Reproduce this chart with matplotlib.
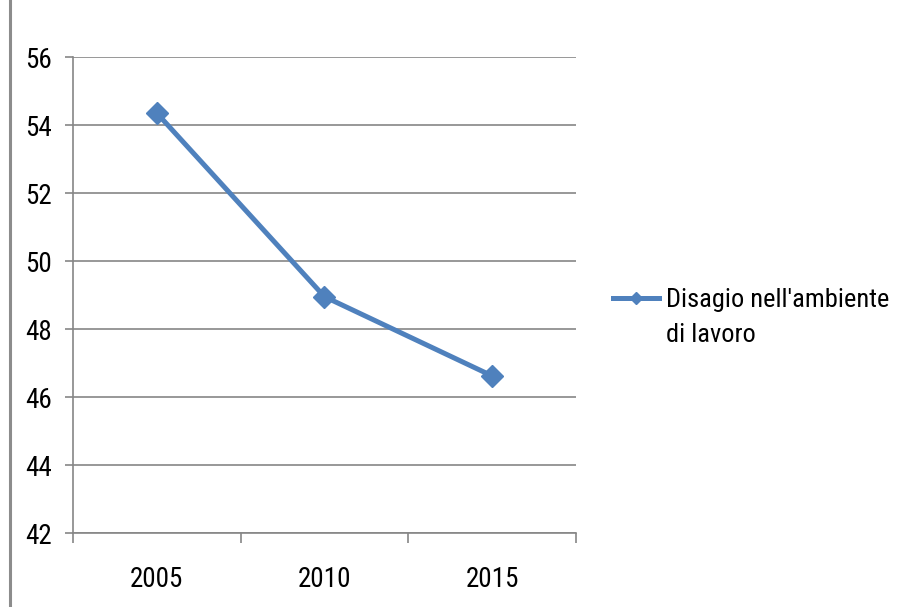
import matplotlib
matplotlib.use("Agg")
import matplotlib.pyplot as plt
from matplotlib.lines import Line2D

# dati
anni = ["2005", "2010", "2015"]
valori = [54.35, 48.95, 46.62]
etichetta = "Disagio nell'ambiente"
etichetta2 = "di lavoro"

plt.rcParams['font.family'] = ['Liberation Sans Narrow', 'Roboto Condensed', 'Open Sans Condensed', 'DejaVu Sans']
plt.rcParams['font.stretch'] = 'condensed'

blu = "#4F81BD"
grigio = "#868686"

fig = plt.figure(figsize=(9.04, 6.07), dpi=100)
ax = fig.add_axes([73 / 904, 1 - 533 / 607, (576 - 73) / 904, (533 - 57) / 607])

x = list(range(len(anni)))
ax.plot(x, valori, color=blu, lw=3.6, marker="D", markersize=11.5, label=etichetta, zorder=3)

ax.set_xlim(-0.5, len(anni) - 0.5)
ax.set_ylim(42, 56)
ax.set_yticks(range(42, 57, 2))
ax.grid(axis="y", color=grigio, lw=1.2)
ax.set_axisbelow(True)

ax.set_xticks(x)
ax.set_xticklabels(anni)
ax.set_xticks([i - 0.5 for i in range(len(anni) + 1)], minor=True)
ax.tick_params(axis="x", which="major", length=0, pad=24, labelsize=19.5, colors="black")
ax.tick_params(axis="x", which="minor", length=7, width=1.2, color=grigio)
ax.tick_params(axis="y", length=6, width=1.2, color=grigio, pad=9, labelsize=19.5)

for s in ["top", "right"]:
    ax.spines[s].set_visible(False)
for s in ["left", "bottom"]:
    ax.spines[s].set_color(grigio)
    ax.spines[s].set_linewidth(1.2)

# legenda
leg = ax.legend(loc="center left", bbox_to_anchor=(613 / 904, 1 - 300 / 607),
                bbox_transform=fig.transFigure, frameon=False, fontsize=19,
                borderpad=0, borderaxespad=0, handlelength=1.75, handletextpad=0.25,
                markerscale=0.55)
ax.annotate(etichetta2, xy=(0, 0), xycoords=leg.get_texts()[0],
            xytext=(0, -8), textcoords="offset points", va="top", ha="left",
            fontsize=19, zorder=10, annotation_clip=False)

# bordo a sinistra
fig.add_artist(Line2D([10 / 904, 10 / 904], [0, 1], color="#8c8c8c", lw=2.2, transform=fig.transFigure))

fig.savefig("out.png", dpi=100)
